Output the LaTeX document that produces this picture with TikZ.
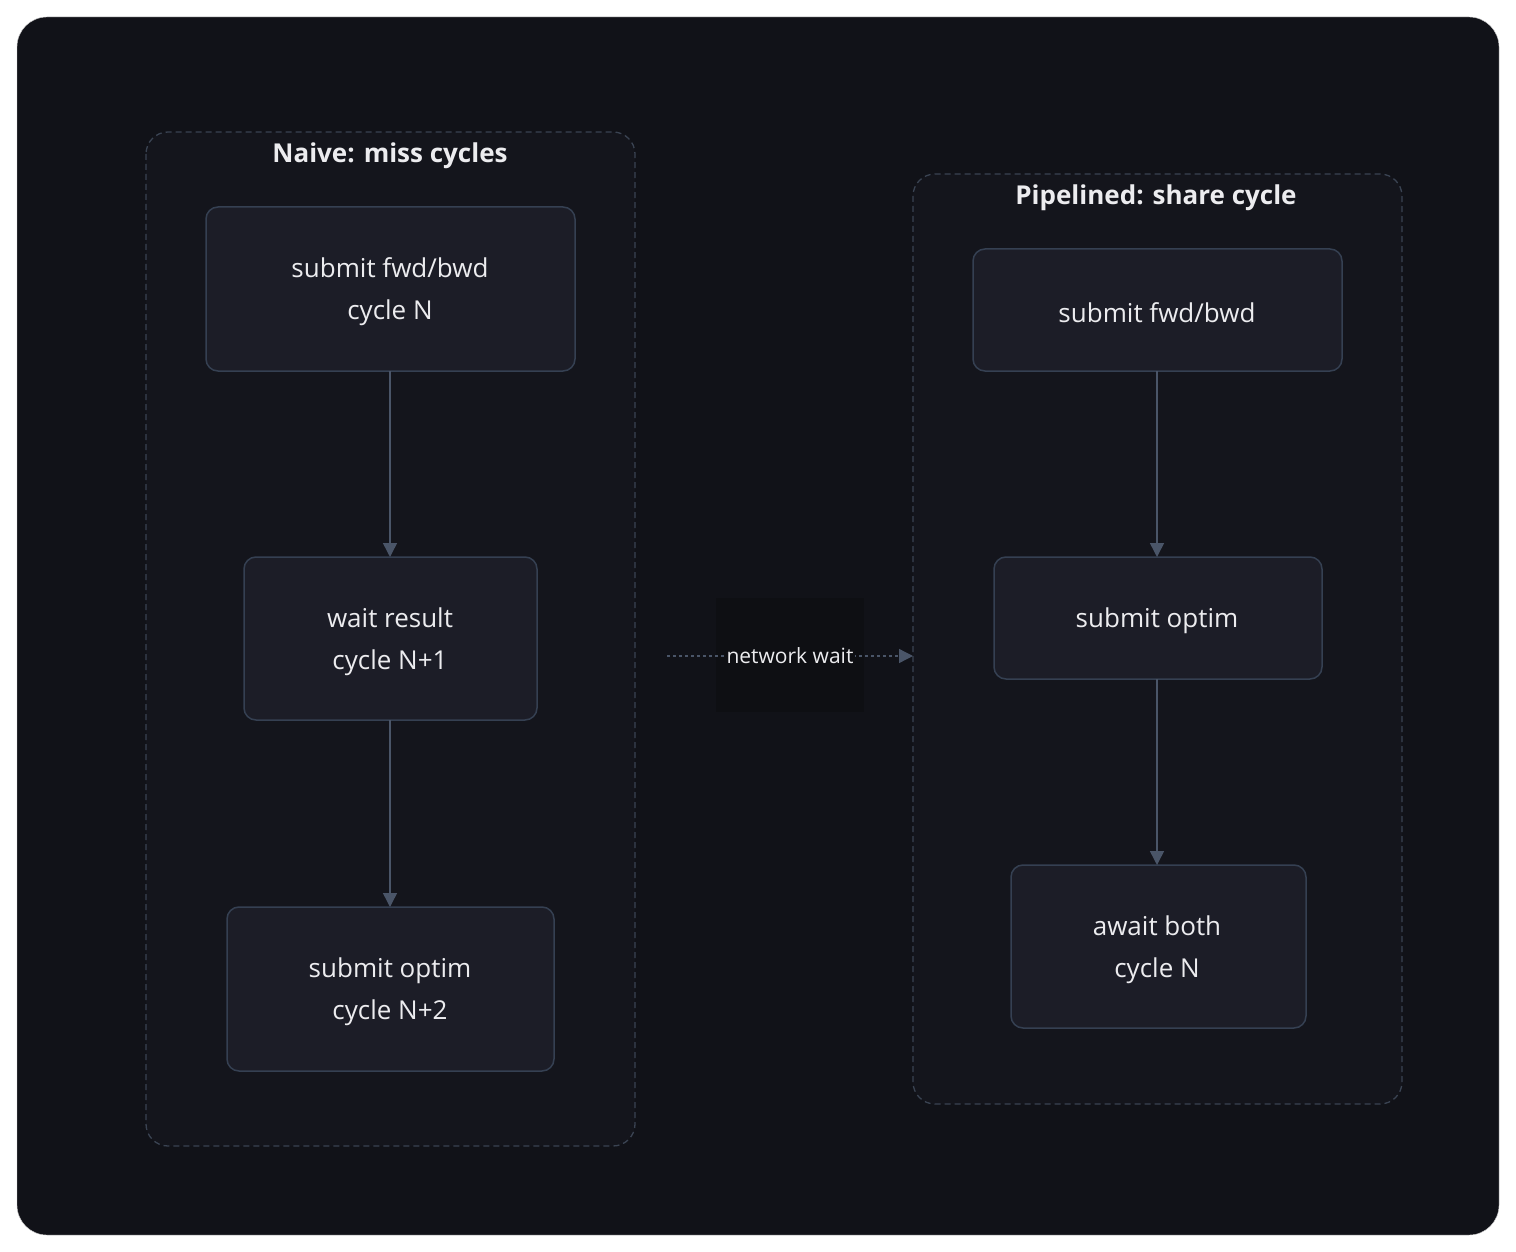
\documentclass[tikz,border=0pt]{standalone}
\usepackage{fontspec}
\setmainfont{Open Sans}
\usetikzlibrary{arrows.meta}
\definecolor{bgc}{HTML}{111218}
\definecolor{clf}{HTML}{14151C}
\definecolor{cld}{HTML}{3A4352}
\definecolor{nf}{HTML}{1C1D27}
\definecolor{nd}{HTML}{354052}
\definecolor{tx}{HTML}{ECECEF}
\definecolor{ed}{HTML}{4A5568}
\definecolor{lb}{HTML}{0E0F13}
\begin{document}
\begin{tikzpicture}[x=1pt,y=-1pt,
  clus/.style={draw=cld,dashed,dash pattern=on 6pt off 4pt,line width=1.3pt,fill=clf,rounded corners=22pt},
  box/.style={draw=nd,line width=1.5pt,fill=nf,rounded corners=12pt},
  lbl/.style={text=tx,font=\fontsize{26}{42}\selectfont,align=center},
  ttl/.style={text=tx,font=\fontsize{26}{32}\selectfont\bfseries},
  arr/.style={draw=ed,line width=1.5pt,-{Triangle[length=14pt,width=14pt]}}]
\useasboundingbox (0,0) rectangle (1516,1252);
\fill[white] (0,0) rectangle (1516,1252);
\draw[fill=bgc,draw=gray!40,rounded corners=30pt] (17,17) rectangle (1499,1235);
\draw[clus] (146,132) rectangle (635,1146);
\node[ttl] (t1) at (390,156) {Naive: miss cycles};
\draw[clus] (913,174) rectangle (1402,1104);
\node[ttl] (t2) at (1156,198) {Pipelined: share cycle};
\draw[box] (206,207) rectangle (575,371); \node[lbl] (a) at (390,292) {submit fwd/bwd\\cycle N};
\draw[box] (244,557) rectangle (537,720); \node[lbl] (b) at (390,642) {wait result\\cycle N+1};
\draw[box] (227,907) rectangle (554,1071); \node[lbl] (c) at (390,992) {submit optim\\cycle N+2};
\draw[box] (973,249) rectangle (1342,371); \node[lbl] (d) at (1157,313) {submit fwd/bwd};
\draw[box] (994,557) rectangle (1322,679); \node[lbl] (e) at (1157,621) {submit optim};
\draw[box] (1011,865) rectangle (1306,1028); \node[lbl] (f) at (1157,950) {await both\\cycle N};
\coordinate (a1) at (390,371); \coordinate (b0) at (390,557);
\coordinate (b1) at (390,720); \coordinate (c0) at (390,907);
\coordinate (d1) at (1157,371); \coordinate (e0) at (1157,557);
\coordinate (e1) at (1157,679); \coordinate (f0) at (1157,865);
\draw[arr] (a1) -- (b0);
\draw[arr] (b1) -- (c0);
\draw[arr] (d1) -- (e0);
\draw[arr] (e1) -- (f0);
\coordinate (s) at (667,656); \coordinate (t) at (913,656);
\fill[lb] (716,598) rectangle (864,712);
\draw[arr,dash pattern=on 3pt off 3pt,line width=1.3pt] (s) -- node[fill=lb,text=tx,font=\fontsize{21}{24}\selectfont,inner sep=2pt] (nw) {network wait} (t);
\end{tikzpicture}
\end{document}
